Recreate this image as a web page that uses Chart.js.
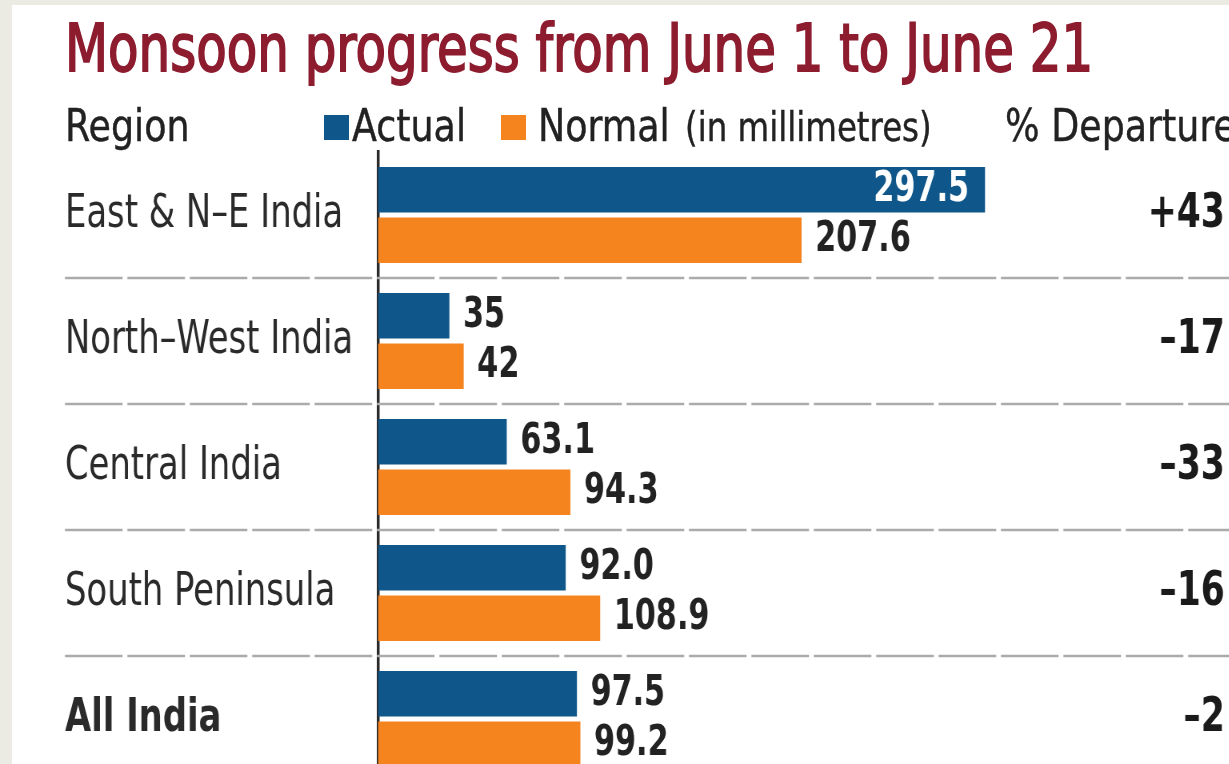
<!DOCTYPE html>
<html>
<head>
<meta charset="utf-8">
<script src="https://cdn.jsdelivr.net/npm/chart.js@4"></script>
<style>
  html, body { margin: 0; padding: 0; width: 1229px; height: 764px; overflow: hidden; background: #ecebe3; }
  #panel { position: absolute; left: 12px; top: 5px; width: 1217px; height: 759px; background: #fff; }
  .txt { position: absolute; white-space: nowrap; line-height: 1; transform-origin: 0 0; font-family: 'DejaVu Sans Condensed', 'Liberation Sans Narrow', sans-serif; color: #222; }
  #title { left: 65px; top: 16px; font-size: 66px; color: #8d1c2f; -webkit-text-stroke: 1.8px #8d1c2f; transform: scaleX(0.84); }
  .hdr { font-size: 44px; top: 104px; transform: scaleX(0.92); -webkit-text-stroke: 0.4px #222; }
  .sq { position: absolute; width: 25px; height: 25px; top: 115px; }
  /* the chart is drawn wider and squeezed, to get the narrow lettering of the original */
  #wrap { position: absolute; left: 0; top: 0; width: 1536px; height: 812px; transform: scaleX(0.8); transform-origin: 0 0; }
</style>
</head>
<body>
<div id="panel"></div>
<div id="wrap"><canvas id="myChart"></canvas></div>
<div class="txt" id="title">Monsoon progress from June 1 to June 21</div>
<div class="txt hdr" style="left:65px">Region</div>
<div class="sq" style="left:324px; background:#0f568a"></div>
<div class="txt hdr" style="left:352px">Actual</div>
<div class="sq" style="left:501px; background:#f5841f"></div>
<div class="txt hdr" style="left:538px">Normal</div>
<div class="txt hdr" style="left:685px; font-size:41px; top:107px; transform:scaleX(0.88)">(in millimetres)</div>
<div class="txt hdr" style="left:1005px">% Departure</div>
<script>
let regions = ["East & N–E India", "North–West India", "Central India", "South Peninsula", "All India"];
let actual = [297.5, 35, 63.1, 92.0, 97.5];
let normal = [207.6, 42, 94.3, 108.9, 99.2];
let actualLabels = ["297.5", "35", "63.1", "92.0", "97.5"];
let normalLabels = ["207.6", "42", "94.3", "108.9", "99.2"];
let departure = ["+43", "–17", "–33", "–16", "–2"];

let squeeze = 0.8;
let fontFam = "'DejaVu Sans Condensed', 'Liberation Sans Narrow', sans-serif";
let ctx = document.getElementById("myChart");

// dashed separators between regions, running under the labels too
let separators = {
  id: "separators",
  beforeDatasetsDraw: (chart) => {
    let y = chart.scales.y;
    let c = chart.ctx;
    c.save();
    c.strokeStyle = "#ababab";
    c.lineWidth = 2.5;
    c.setLineDash([72, 6]);
    for (let i = 0; i < regions.length - 1; i++) {
      let py = (y.getPixelForValue(i) + y.getPixelForValue(i + 1)) / 2;
      c.beginPath();
      c.moveTo(65 / squeeze, py);
      c.lineTo(chart.width, py);
      c.stroke();
    }
    c.restore();
  }
};

// numbers at the end of each bar
let valueLabels = {
  id: "valueLabels",
  afterDatasetsDraw: (chart) => {
    let c = chart.ctx;
    c.save();
    c.font = "bold 42px " + fontFam;
    c.textBaseline = "middle";
    chart.data.datasets.forEach((ds, di) => {
      let texts = di === 0 ? actualLabels : normalLabels;
      chart.getDatasetMeta(di).data.forEach((bar, i) => {
        if (bar.x - bar.base > 600) {
          c.fillStyle = "#fff";
          c.textAlign = "right";
          c.fillText(texts[i], bar.x - 20, bar.y);
        } else {
          c.fillStyle = "#222";
          c.textAlign = "left";
          c.fillText(texts[i], bar.x + 17, bar.y);
        }
      });
    });
    c.restore();
  }
};

let myChart = new Chart(ctx, {
  type: "bar",
  data: {
    labels: regions,
    datasets: [{
      label: "Actual",
      data: actual,
      backgroundColor: "#0f568a",
      categoryPercentage: 0.8,
      barPercentage: 0.9
    }, {
      label: "Normal",
      data: normal,
      backgroundColor: "#f5841f",
      categoryPercentage: 0.8,
      barPercentage: 0.9
    }]
  },
  options: {
    indexAxis: "y",
    responsive: true,
    maintainAspectRatio: false,
    animation: false,
    layout: { padding: { left: 65 / squeeze, right: 4 / squeeze, top: 152, bottom: 30 } },
    plugins: {
      legend: { display: false },
      tooltip: { enabled: false }
    },
    scales: {
      x: {
        display: false,
        min: 0,
        max: 366
      },
      y: {
        grid: { display: false },
        border: { display: true, color: "#2b2b2b", width: 3.5 },
        afterFit: (scale) => { scale.width = 313 / squeeze; },
        ticks: {
          crossAlign: "far",
          color: "#2a2a2a",
          padding: 0,
          font: (c) => ({ family: fontFam, size: 47, weight: c.index === 4 ? "bold" : "normal" })
        }
      },
      y2: {
        type: "category",
        labels: departure,
        position: "right",
        offset: true,
        grid: { display: false },
        border: { display: false },
        afterFit: (scale) => { scale.width = 100 / squeeze; },
        ticks: {
          crossAlign: "far",
          color: "#1a1a1a",
          padding: 0,
          font: { family: fontFam, size: 48, weight: "bold" }
        }
      }
    }
  },
  plugins: [separators, valueLabels]
});
</script>
</body>
</html>
